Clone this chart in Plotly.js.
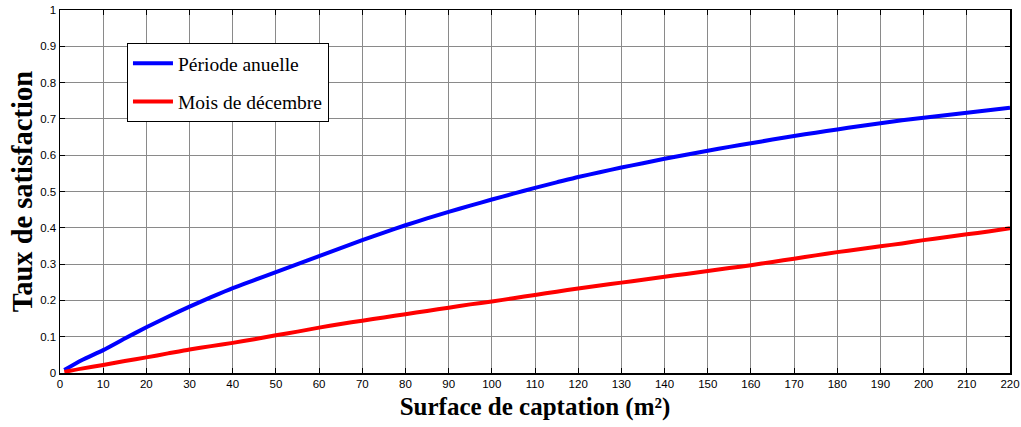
<!DOCTYPE html>
<html>
<head>
<meta charset="utf-8">
<script src="https://cdn.plot.ly/plotly-3.0.1.min.js"></script>
<style>html,body{margin:0;padding:0;background:#fff;}#chart{width:1021px;height:427px;}</style>
</head>
<body>
<div id="chart"></div>
<script>
const surface = [1, 5, 10, 15, 20, 25, 30, 35, 40, 45, 50, 55, 60, 65, 70, 75, 80, 85, 90, 95, 100, 105, 110, 115, 120, 125, 130, 135, 140, 145, 150, 155, 160, 165, 170, 175, 180, 185, 190, 195, 200, 205, 210, 215, 220];
const annuelle = [0.008, 0.035, 0.063, 0.095, 0.126, 0.155, 0.183, 0.209, 0.234, 0.256, 0.278, 0.300, 0.322, 0.344, 0.366, 0.387, 0.407, 0.426, 0.444, 0.461, 0.478, 0.494, 0.510, 0.525, 0.540, 0.553, 0.566, 0.578, 0.590, 0.601, 0.612, 0.623, 0.633, 0.643, 0.653, 0.662, 0.671, 0.680, 0.688, 0.696, 0.703, 0.710, 0.717, 0.724, 0.731];
const decembre = [0.003, 0.012, 0.022, 0.033, 0.043, 0.054, 0.065, 0.074, 0.083, 0.093, 0.104, 0.114, 0.125, 0.135, 0.144, 0.153, 0.162, 0.171, 0.180, 0.189, 0.197, 0.206, 0.215, 0.224, 0.233, 0.241, 0.249, 0.257, 0.265, 0.273, 0.281, 0.289, 0.297, 0.306, 0.315, 0.324, 0.333, 0.341, 0.349, 0.357, 0.366, 0.374, 0.382, 0.390, 0.399];
const xTicks = [0,10,20,30,40,50,60,70,80,90,100,110,120,130,140,150,160,170,180,190,200,210,220];
const yTicks = [0,0.1,0.2,0.3,0.4,0.5,0.6,0.7,0.8,0.9,1];
const yTickLabels = ['0','0.1','0.2','0.3','0.4','0.5','0.6','0.7','0.8','0.9','1'];
const xTitle = 'Surface de captation (m²)';
const yTitle = 'Taux de satisfaction';

const traces = [
  {x: surface, y: annuelle, mode: 'lines', name: 'Période anuelle', legendgroup: 'a',
   line: {color: '#0000ff', width: 4, shape: 'spline', smoothing: 0.6}},
  {x: surface, y: decembre, mode: 'lines', name: 'Mois de décembre', legendgroup: 'b',
   line: {color: '#ff0000', width: 4, shape: 'spline', smoothing: 0.6}}
];

const axisCommon = {
  showline: true, linecolor: '#000', linewidth: 1.5, mirror: 'ticks',
  ticks: 'inside', ticklen: 5, tickcolor: '#000', tickwidth: 1,
  showgrid: true, gridcolor: '#8a8a8a', gridwidth: 1, zeroline: false,
  tickfont: {family: 'Liberation Sans, Arial, sans-serif', size: 11.5, color: '#000'}
};
const titleFont = {family: 'Liberation Serif, Times New Roman, serif', color: '#000', weight: 'bold'};

const layout = {
  width: 1021, height: 427,
  margin: {l: 60, r: 11, t: 10, b: 54},
  paper_bgcolor: '#fff', plot_bgcolor: '#fff',
  showlegend: true,
  xaxis: Object.assign({}, axisCommon, {
    range: [0, 220], tickvals: xTicks, ticktext: xTicks.map(String),
    title: {text: xTitle, standoff: 8, font: Object.assign({size: 25}, titleFont)}
  }),
  yaxis: Object.assign({}, axisCommon, {
    range: [0, 1], tickvals: yTicks, ticktext: yTickLabels
  }),
  annotations: [{
    text: yTitle, xref: 'paper', yref: 'paper', x: -0.04, y: 0.498,
    xanchor: 'center', yanchor: 'middle', textangle: -90, showarrow: false,
    font: Object.assign({size: 28.5}, titleFont)
  }],
  legend: {
    x: 0.0705, y: 0.909, xanchor: 'left', yanchor: 'top',
    bgcolor: '#fff', bordercolor: '#000', borderwidth: 1,
    font: {family: 'Liberation Serif, Times New Roman, serif', size: 19.5, color: '#000'},
    tracegroupgap: 10, itemwidth: 40
  }
};

Plotly.newPlot('chart', traces, layout, {displayModeBar: false, staticPlot: true});
</script>
</body>
</html>
